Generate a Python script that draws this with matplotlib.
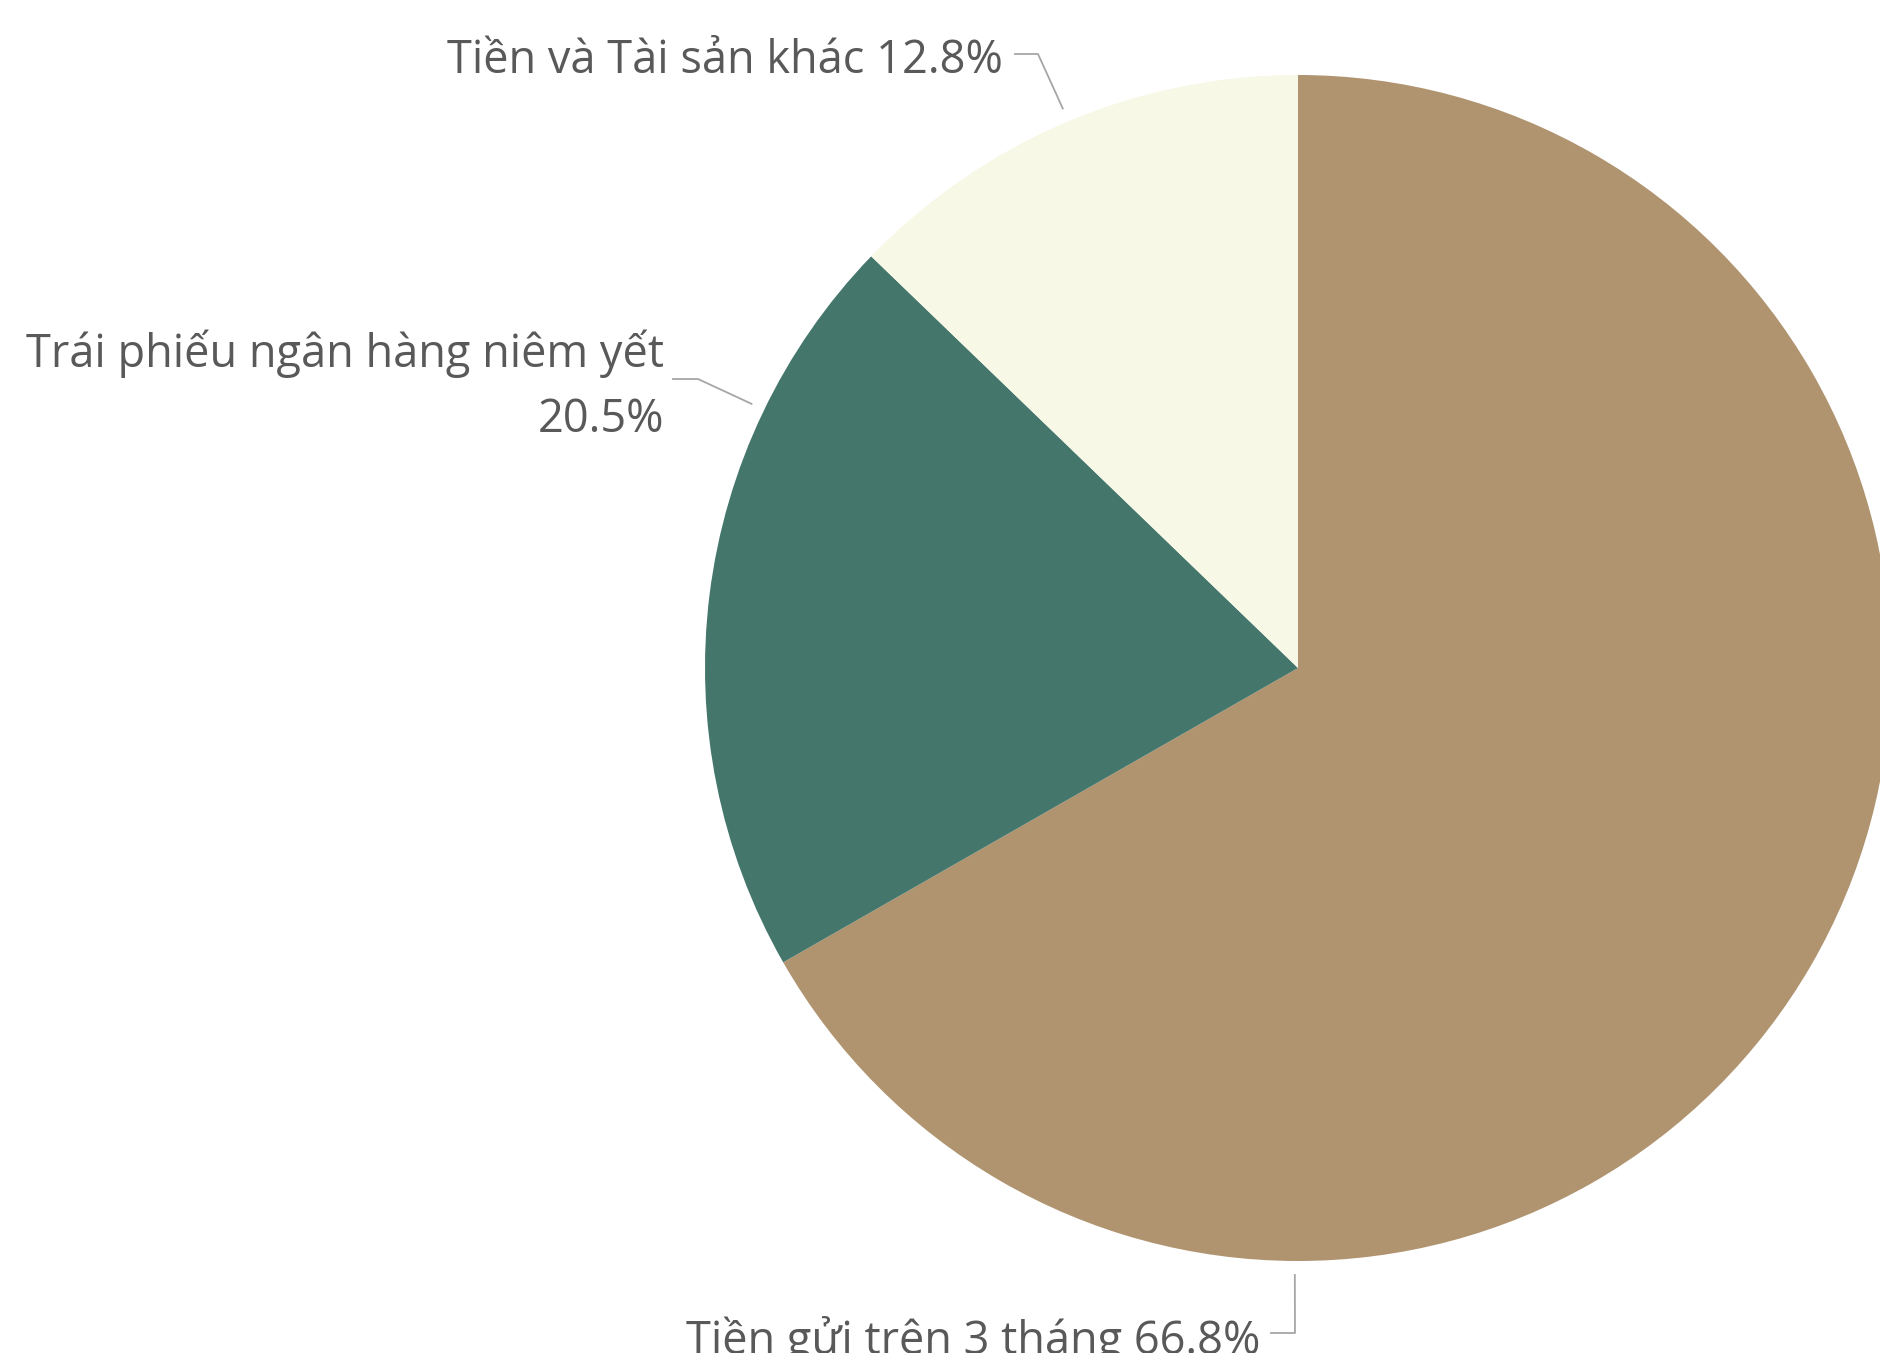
import numpy as np
import matplotlib.pyplot as plt

# data
labels = ["Tiền gửi trên 3 tháng", "Trái phiếu ngân hàng niêm yết", "Tiền và Tài sản khác"]
shares = [66.8, 20.5, 12.8]
colors = ["#B09470", "#44766C", "#F7F8E6"]
label_text = ["Tiền gửi trên 3 tháng 66.8%", "Trái phiếu ngân hàng niêm yết\n20.5%", "Tiền và Tài sản khác 12.8%"]

# layout (pixel units, y up)
W, H = 1881, 1353
cx, cy, r = 1298, 685, 593
# where the leader touches the pie (deg), elbow point, end near text, text anchor
anchor_ang = [-90.3, 154.2, 112.8]
elbow = [(1295, 20), (698, 974), (1038, 1299)]
line_end = [(1271, 20), (673, 974), (1015, 1299)]
text_xy = [(1260, -1), (664, 921), (1003, 1280)]

plt.rcParams['font.family'] = ['Open Sans', 'DejaVu Sans']

fig = plt.figure(figsize=(W / 100, H / 100), dpi=100)
ax = fig.add_axes([0, 0, 1, 1])
ax.pie(shares, colors=colors, startangle=90, counterclock=False,
       center=(cx, cy), radius=r, frame=True,
       wedgeprops=dict(linewidth=0))
ax.set_xlim(0, W)
ax.set_ylim(0, H)
ax.set_aspect('equal')
ax.axis('off')

for i in range(3):
    a = np.deg2rad(anchor_ang[i])
    px, py = cx + (r + 14) * np.cos(a), cy + (r + 14) * np.sin(a)
    ax.plot([px, elbow[i][0], line_end[i][0]], [py, elbow[i][1], line_end[i][1]],
            color="#A6A6A6", lw=1.3, clip_on=False)
    ax.text(text_xy[i][0], text_xy[i][1], label_text[i], ha='right', va='baseline',
            ma='right', fontsize=32.5, color="#595959", linespacing=1.53)

fig.savefig("out.png", dpi=100)
